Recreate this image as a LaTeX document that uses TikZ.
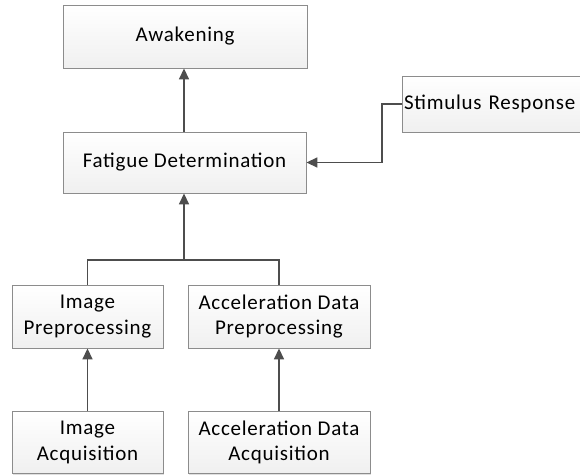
\documentclass[tikz,border=0pt]{standalone}
\usepackage{fontspec}
\setmainfont{Carlito}[LetterSpace=3.5]
\usetikzlibrary{arrows.meta,shadows}
\definecolor{boxline}{HTML}{8C8C8C}
\definecolor{conn}{HTML}{4D4D4D}
\begin{document}
\begin{tikzpicture}[x=1pt,y=-1pt,
  box/.style={draw=boxline, line width=0.9pt, top color=white, bottom color=gray!12,
    drop shadow={shadow xshift=1.2pt, shadow yshift=-1.2pt, opacity=0.25},
    inner sep=2pt, align=center, font=\fontsize{21}{25.5}\selectfont, text=black},
  conn/.style={draw=conn, line width=1.7pt},
  arr/.style={conn, -{Triangle[length=11pt,width=10pt]}}]
\useasboundingbox (0,0) rectangle (580,474);
\node[box, minimum width=244pt, minimum height=63pt] (aw) at (185,36.5) {Awakening};
\node[box, minimum width=243pt, minimum height=61pt] (fd) at (184.5,162.5) {Fatigue Determination};
\node[box, minimum width=188pt, minimum height=56pt, text width=184pt, align=left] (sr) at (496,104) {Stimulus Response};
\node[box, minimum width=151pt, minimum height=63pt] (ip) at (87.5,316.5) {Image\\Preprocessing};
\node[box, minimum width=182pt, minimum height=63pt] (ap) at (279,316.5) {Acceleration Data\\Preprocessing};
\node[box, minimum width=151pt, minimum height=62pt] (ia) at (87.5,442.5) {Image\\Acquisition};
\node[box, minimum width=182pt, minimum height=62pt] (aa) at (279,442.5) {Acceleration Data\\Acquisition};
\coordinate (j) at (184,260);
\coordinate (k) at (382,104);
\draw[arr] (fd.north -| 184,0) -- (aw.south -| 184,0);
\draw[arr] (sr.west) -- (k) |- (fd.east);
\draw[conn] (ip.north) |- (j) -| (ap.north);
\draw[arr] (j) -- (fd.south -| j);
\draw[arr] (ia.north) -- (ip.south);
\draw[arr] (aa.north) -- (ap.south);
\end{tikzpicture}
\end{document}
